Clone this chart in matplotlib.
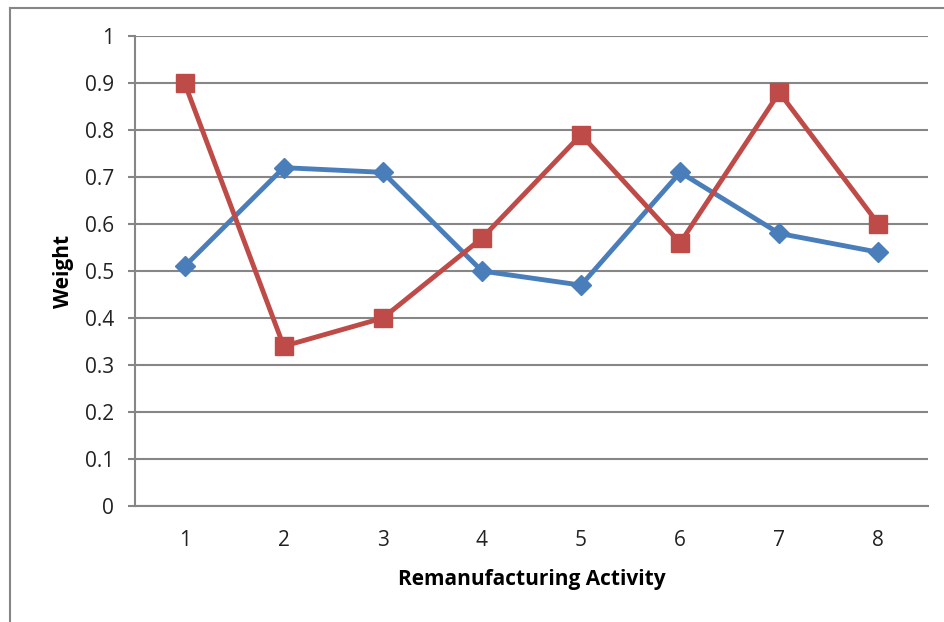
import matplotlib.pyplot as plt
from matplotlib.lines import Line2D

# data
activity = [1, 2, 3, 4, 5, 6, 7, 8]
blue_weights = [0.51, 0.72, 0.71, 0.50, 0.47, 0.71, 0.58, 0.54]
red_weights = [0.90, 0.34, 0.40, 0.57, 0.79, 0.56, 0.88, 0.60]
y_ticks = [0, 0.1, 0.2, 0.3, 0.4, 0.5, 0.6, 0.7, 0.8, 0.9, 1]
y_labels = ["0", "0.1", "0.2", "0.3", "0.4", "0.5", "0.6", "0.7", "0.8", "0.9", "1"]

plt.rcParams['font.family'] = ['Open Sans', 'DejaVu Sans']

fig = plt.figure(figsize=(9.45, 6.22), dpi=100)
ax = fig.add_axes([0.1429, 0.1865, 0.8391, 0.7555])

grey = "#868686"
ax.plot(activity, blue_weights, color="#4A7EBB", lw=3.5, marker="D",
        markersize=10.5, zorder=3)
ax.plot(activity, red_weights, color="#BE4B48", lw=3.5, marker="s",
        markersize=13.5, zorder=4)

ax.set_xlim(0.5, 8.5)
ax.set_ylim(0, 1)
ax.set_xticks(activity)
ax.set_yticks(y_ticks)
ax.set_yticklabels(y_labels)
ax.yaxis.grid(True, color=grey, lw=1.5)
ax.set_axisbelow(True)

for s in ["top", "right"]:
    ax.spines[s].set_visible(False)
for s in ["left", "bottom"]:
    ax.spines[s].set_color(grey)
    ax.spines[s].set_linewidth(1.5)

ax.tick_params(axis="y", length=5, width=1.5, color=grey, labelsize=15,
               pad=10, labelcolor="#222222")
ax.tick_params(axis="x", length=0, labelsize=15, pad=17, labelcolor="#222222")

ax.set_xlabel("Remanufacturing Activity", fontsize=15, fontweight="bold", labelpad=13)
ax.set_ylabel("Weight", fontsize=15, fontweight="bold", labelpad=8)

# outer frame lines (left and top)
fig.add_artist(Line2D([10 / 945, 10 / 945], [0, 1 - 8 / 622], color=grey, lw=1.5))
fig.add_artist(Line2D([10 / 945, 1], [1 - 8 / 622, 1 - 8 / 622], color=grey, lw=1.5))

fig.savefig("out.png", dpi=100)
